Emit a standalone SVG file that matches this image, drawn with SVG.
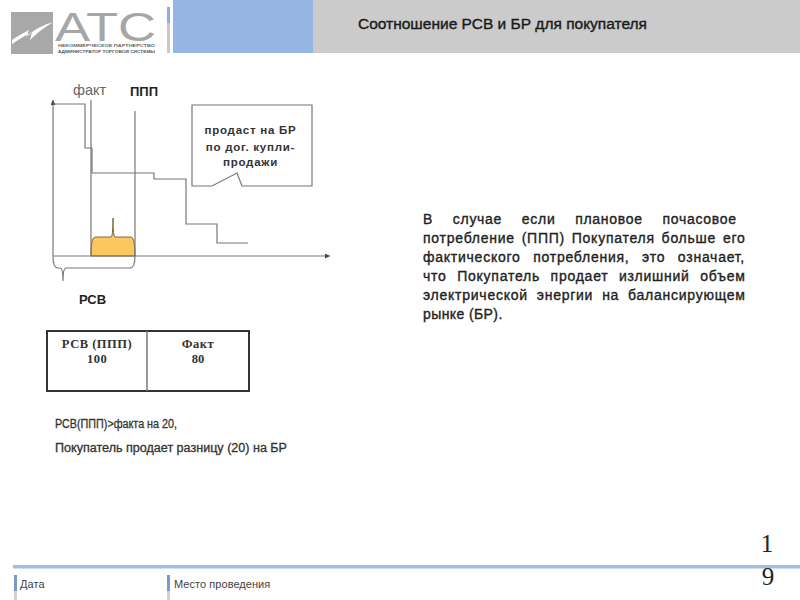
<svg xmlns="http://www.w3.org/2000/svg" width="800" height="600" viewBox="0 0 800 600">
<style>
text{font-family:"Liberation Sans",Arial,sans-serif;fill:#1a1a1a}
.ln{fill:none;stroke:#777;stroke-width:1.2}
.lb{font-size:13px;font-weight:bold;fill:#222}
.body{font-size:14px;fill:#222;stroke:#222;stroke-width:.35}
.foot{font-size:11px;fill:#444;letter-spacing:.05px}
.ser{font-family:"Liberation Serif",serif;font-size:12.500px;font-weight:bold;fill:#333;text-anchor:middle}
.call{font-size:11.500px;font-weight:bold;text-anchor:middle;fill:#333;letter-spacing:.75px}
.note{font-size:12px;fill:#333;stroke:#333;stroke-width:.3}
.num{font-family:"Liberation Serif",serif;font-size:25px;text-anchor:middle;fill:#222}
</style>
<defs><marker id="arr" markerUnits="userSpaceOnUse" markerWidth="6" markerHeight="6" refX="5" refY="2.500" orient="auto"><path d="M0 0L5 2.500L0 5Z" fill="#444"/></marker></defs>
<g id="header">
<rect x="173" y="0" width="140" height="53" fill="#95b5e3"/>
<rect x="313" y="0" width="487" height="53" fill="#cbcbcb"/>
<rect x="167" y="7" width="3" height="16" fill="#8eaed8"/>
<rect x="167" y="23" width="3" height="30" fill="#c8c8c8"/>
<text x="358" y="29" font-size="14" style="stroke:#1a1a1a;stroke-width:.35" textLength="289" lengthAdjust="spacingAndGlyphs">Соотношение РСВ и БР для покупателя</text>
</g>
<g id="logo">
<rect x="11" y="12" width="42" height="42" fill="#a8a8a8"/>
<path d="M12 40C24 32 28 31 29 30L26 37C36 28 44 25 53 22C44 28 38 32 30 40L32 32C24 36 18 40 12 44Z" fill="#fff"/>
<text x="55" y="41" font-size="41" style="fill:#a6a6a6" textLength="101" lengthAdjust="spacingAndGlyphs">АТС</text>
<text x="58" y="46.500" font-size="4" font-weight="bold" style="fill:#666" textLength="97" lengthAdjust="spacingAndGlyphs">НЕКОММЕРЧЕСКОЕ ПАРТНЕРСТВО</text>
<text x="58" y="53" font-size="4" font-weight="bold" style="fill:#555" textLength="97" lengthAdjust="spacingAndGlyphs">АДМИНИСТРАТОР ТОРГОВОЙ СИСТЕМЫ</text>
</g>
<g id="connectors">
<path d="M91 256Q91 237 95 237L111 237Q113 237 113 218Q113 237 115 237L131 237Q135 237 135 256Z" fill="#fdc75f" stroke="#7a6a40" stroke-width="1"/>
<path class="ln" d="M53 256V100" marker-end="url(#arr)"/>
<path class="ln" d="M53 256H330" marker-end="url(#arr)"/>
<path class="ln" d="M53 104H85V148H92V173H154V179H186V224H217V243H248"/>
<path class="ln" d="M91 100V256"/>
<path class="ln" d="M135 111V256"/>
<path class="ln" d="M53 256Q53 268 58 268H60Q63 268 63 281Q63 268 66 268H130Q135 268 135 256"/>
</g>
<g id="fact-label"><text x="73" y="95" font-size="14.500" style="fill:#666">факт</text></g>
<g id="ppp-label"><text x="130" y="96" class="lb">ППП</text></g>
<g id="rsv-label"><text x="79" y="304" class="lb">РСВ</text></g>
<g id="callout">
<path d="M192 105H312V186H242L237 173L212 186H192Z" fill="#fff" stroke="#777" stroke-width="1.200"/>
<text x="250.500" y="134" class="call">продаст на БР</text>
<text x="250.500" y="151" class="call">по дог. купли-</text>
<text x="250.500" y="166" class="call">продажи</text>
</g>
<g id="table">
<rect x="47" y="331" width="202" height="60" fill="#fff" stroke="#333" stroke-width="2"/>
<path d="M147 331V391" stroke="#777" stroke-width="1.500"/>
<text x="97" y="348" class="ser" letter-spacing=".5">РСВ (ППП)</text>
<text x="97" y="363" class="ser" letter-spacing=".5">100</text>
<text x="198" y="348" class="ser" letter-spacing=".5">Факт</text>
<text x="198" y="363" class="ser">80</text>
</g>
<g id="note">
<text x="55" y="428" class="note" textLength="122" lengthAdjust="spacingAndGlyphs">РСВ(ППП)&gt;факта на 20,</text>
<text x="55" y="452" class="note" textLength="232" lengthAdjust="spacingAndGlyphs">Покупатель продает разницу (20) на БР</text>
</g>
<g id="description">
<text y="224" x="423" class="body" word-spacing="15.200" letter-spacing=".7">В случае если плановое почасовое</text>
<text y="243" x="423" class="body" word-spacing="2.200" letter-spacing=".75">потребление (ППП) Покупателя больше его</text>
<text y="262" x="423" class="body" word-spacing="8" letter-spacing=".75">фактического потребления, это означает,</text>
<text y="281" x="423" class="body" word-spacing="6" letter-spacing=".75">что Покупатель  продает излишний объем</text>
<text y="300" x="423" class="body" word-spacing="4.300" letter-spacing=".75">электрической энергии на балансирующем</text>
<text y="319" x="423" class="body" letter-spacing=".4">рынке (БР).</text>
</g>
<g id="footer">
<rect x="13" y="565" width="787" height="3.500" fill="#a3bde6"/>
<rect x="14" y="575" width="3" height="16" fill="#7a9cc4"/>
<rect x="14" y="591" width="3" height="9" fill="#d0d0d0"/>
<rect x="167" y="575" width="3" height="16" fill="#7a9cc4"/>
<rect x="167" y="591" width="3" height="9" fill="#d0d0d0"/>
<text x="20" y="588" class="foot">Дата</text>
<text x="174" y="588" class="foot">Место проведения</text>
<text x="767" y="552" class="num">1</text>
<text x="768" y="585" class="num">9</text>
</g>
</svg>
